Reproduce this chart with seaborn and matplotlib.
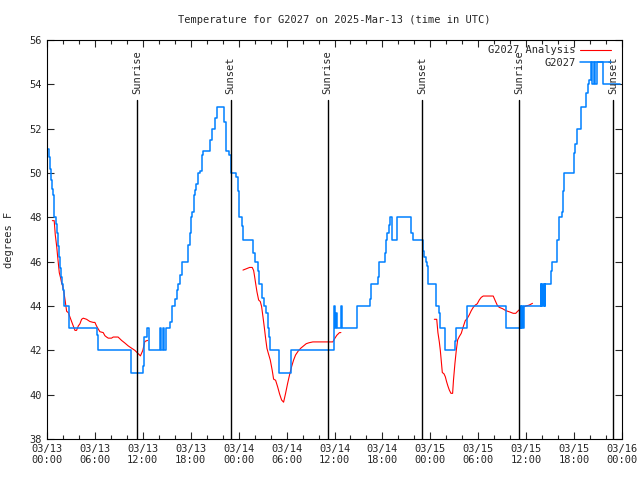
import numpy as np
import pandas as pd
import matplotlib
matplotlib.use("Agg")
import matplotlib.pyplot as plt
import seaborn as sns
from matplotlib.ticker import FixedLocator, MultipleLocator

# hours since 2025-03-13 00:00 UTC, observed temperature (step changes)
obs_hours = [0.0, 0.29, 0.42, 0.54, 0.67, 0.79, 0.92, 1.08, 1.21, 1.33, 1.46, 1.58, 1.71, 1.83, 1.96,
             2.08, 2.17, 2.79, 6.21, 6.42, 10.58, 12.04, 12.2, 12.46, 12.71, 14.21, 14.33, 14.58, 14.67,
             14.875, 15.46, 15.625, 16.04, 16.29, 16.46, 16.625, 16.875, 17.71, 17.875, 18.04, 18.21,
             18.375, 18.54, 18.71, 18.96, 19.125, 19.375, 19.54, 20.46, 20.625, 21.04, 21.29, 22.125,
             22.375, 22.79, 23.04, 23.7, 23.875, 24.04, 24.1, 24.46, 24.54, 25.79, 26.1, 26.46, 26.6,
             26.875, 26.96, 27.125, 27.375, 27.625, 27.79, 27.875, 29.04, 30.58, 35.96, 36.08, 36.17,
             36.29, 36.79, 36.92, 38.79, 40.46, 40.54, 41.46, 41.54, 42.375, 42.46, 42.625, 42.79, 43.0,
             43.25, 43.8, 45.6, 45.8, 47.1, 47.25, 47.4, 47.55, 47.7, 48.65, 49.04, 49.2, 49.79, 51.04,
             51.2, 52.55, 57.5, 59.3, 59.4, 59.5, 59.6, 59.75, 61.83, 61.9, 62.04, 62.1, 62.25, 62.3,
             62.4, 63.1, 63.29, 63.85, 64.1, 64.46, 64.625, 64.79, 66.0, 66.125, 66.375, 66.83, 67.46,
             67.71, 67.875, 68.1, 68.25, 68.45, 68.6, 68.9, 69.6, 71.8]
obs_temps = [51.1, 50.7, 50.2, 49.7, 49.3, 49.0, 48.0, 47.7, 47.3, 46.7, 46.2, 45.7, 45.3, 45.0, 44.7,
             44.3, 44.0, 43.0, 42.7, 42.0, 41.0, 41.3, 42.6, 43.0, 42.0, 43.0, 42.0, 43.0, 42.0,
             43.0, 43.3, 44.0, 44.3, 44.7, 45.0, 45.4, 46.0, 46.75, 47.3, 48.0, 48.25,
             49.0, 49.25, 49.5, 50.0, 50.1, 50.8, 51.0, 51.5, 52.0, 52.5, 53.0, 52.3,
             51.0, 50.8, 50.0, 49.8, 49.2, 48.8, 48.0, 47.6, 47.0, 46.4, 46.0, 45.6, 45.0,
             44.7, 44.35, 44.0, 43.7, 43.0, 42.6, 42.0, 41.0, 42.0, 44.0, 43.0, 43.7,
             43.0, 44.0, 43.0, 44.0, 44.3, 45.0, 45.3, 46.0, 46.4, 47.0, 47.3, 47.65, 48.0,
             47.0, 48.0, 47.3, 47.0, 46.5, 46.2, 46.0, 45.8, 45.0, 44.0, 43.67, 43.0, 42.0, 42.4,
             43.0, 44.0, 43.0, 44.0, 43.0, 44.0, 43.0, 44.0, 45.0, 44.0, 45.0, 44.0, 45.0, 44.0,
             45.0, 45.6, 46.0, 47.0, 48.0, 48.25, 49.2, 50.0, 50.9, 51.3, 52.0, 53.0, 53.6,
             54.0, 54.2, 55.0, 54.0, 55.0, 54.0, 55.0, 54.0, 54.0]

# analysis series, three separate runs
ana_hours_1 = [0.67, 0.9, 1.04, 1.21, 1.33, 1.54, 1.71, 1.83, 1.96, 2.125, 2.25, 2.46, 2.67, 2.875,
               3.08, 3.29, 3.5, 3.7, 3.92, 4.125, 4.33, 4.54, 4.96, 5.16, 5.375, 5.79, 6.0, 6.2, 6.42,
               6.625, 7.04, 7.25, 7.46, 7.67, 8.08, 8.29, 8.9, 9.33, 9.75, 10.17, 10.58, 11.0, 11.42,
               11.7, 12.0, 12.25, 12.6]
ana_temps_1 = [47.85, 47.85, 47.2, 46.7, 46.24, 45.5, 45.26, 45.04, 44.9, 44.6, 44.3, 43.76, 43.7, 43.5,
               43.3, 43.1, 42.9, 42.9, 43.1, 43.2, 43.4, 43.45, 43.4, 43.35, 43.3, 43.26, 43.26, 43.1, 42.96,
               42.84, 42.8, 42.66, 42.6, 42.55, 42.55, 42.6, 42.6, 42.45, 42.33, 42.2, 42.1, 42.0, 41.85,
               41.75, 42.0, 42.4, 42.45]
ana_hours_2 = [24.54, 24.96, 25.375, 25.7, 25.875, 26.0, 26.125, 26.29, 26.5, 26.71, 26.875, 27.04,
               27.2, 27.375, 27.54, 27.71, 27.96, 28.2, 28.375, 28.625, 28.875, 29.125, 29.375, 29.625,
               29.875, 30.125, 30.375, 30.625, 30.875, 31.125, 31.46, 31.79, 32.125, 32.46, 32.79, 33.29,
               34.125, 35.79, 36.04, 36.29, 36.625, 36.8]
ana_temps_2 = [45.62, 45.68, 45.74, 45.74, 45.6, 45.32, 45.02, 44.64, 44.27, 44.2, 43.97, 43.52,
               43.07, 42.54, 42.09, 41.87, 41.56, 41.1, 40.7, 40.65, 40.36, 40.03, 39.76, 39.66,
               40.06, 40.5, 40.9, 41.26, 41.56, 41.79, 41.97, 42.1, 42.2, 42.3, 42.34, 42.38,
               42.38, 42.38, 42.54, 42.68, 42.8, 42.8]
ana_hours_3 = [48.5, 48.8, 48.95, 49.125, 49.25, 49.375, 49.5, 49.71, 49.875, 50.04, 50.2, 50.375,
               50.58, 50.79, 50.9, 51.08, 51.25, 51.42, 51.625, 51.875, 52.125, 52.375, 52.625, 52.875,
               53.125, 53.375, 53.625, 53.875, 54.125, 54.375, 54.625, 55.375, 55.875, 56.125, 56.375,
               56.625, 57.04, 57.46, 57.875, 58.375, 58.7, 58.9, 59.2, 59.54, 59.96, 60.375, 60.79]
ana_temps_3 = [43.4, 43.4, 42.8, 42.38, 42.0, 41.5, 41.0, 40.94, 40.81, 40.58, 40.39, 40.21,
               40.06, 40.06, 40.66, 41.41, 42.0, 42.47, 42.62, 42.77, 43.07, 43.34, 43.44, 43.6,
               43.79, 43.94, 44.04, 44.1, 44.27, 44.39, 44.45, 44.45, 44.45, 44.24, 44.04,
               43.94, 43.88, 43.79, 43.74, 43.67, 43.67, 43.75, 43.85, 43.94, 44.0, 44.04, 44.12]

sunrise_hours = [11.25, 35.15, 59.1]
sunset_hours = [23.0, 46.95, 70.9]

tick_hours = list(range(0, 73, 6))
tick_labels = ["03/13\n00:00", "03/13\n06:00", "03/13\n12:00", "03/13\n18:00",
               "03/14\n00:00", "03/14\n06:00", "03/14\n12:00", "03/14\n18:00",
               "03/15\n00:00", "03/15\n06:00", "03/15\n12:00", "03/15\n18:00", "03/16\n00:00"]

obs = pd.DataFrame({"hour": obs_hours, "temp": obs_temps})
ana = pd.concat([
    pd.DataFrame({"hour": ana_hours_1, "temp": ana_temps_1, "run": 1}),
    pd.DataFrame({"hour": ana_hours_2, "temp": ana_temps_2, "run": 2}),
    pd.DataFrame({"hour": ana_hours_3, "temp": ana_temps_3, "run": 3}),
], ignore_index=True)

sns.set_style("ticks")
plt.rcParams["font.family"] = ["DejaVu Sans Mono"]
plt.rcParams["font.size"] = 7.5

fig = plt.figure(figsize=(6.4, 4.8), dpi=100)
ax = fig.add_axes([47 / 640, 41 / 480, 575 / 640, 399 / 480])

sns.lineplot(data=ana, x="hour", y="temp", units="run", estimator=None, color="#ff0000",
             linewidth=0.8, ax=ax, label="G2027 Analysis")
sns.lineplot(data=obs, x="hour", y="temp", color="#0080ff", linewidth=1.1,
             drawstyle="steps-post", ax=ax, label="G2027")

for h in sunrise_hours:
    ax.plot([h, h], [38, 53.3], color="black", linewidth=1.0)
    ax.text(h, 53.55, "Sunrise", rotation=90, ha="center", va="bottom", fontsize=7.5)
for h in sunset_hours:
    ax.plot([h, h], [38, 53.3], color="black", linewidth=1.0)
    ax.text(h, 53.55, "Sunset", rotation=90, ha="center", va="bottom", fontsize=7.5)

ax.set_xlim(0, 72)
ax.set_ylim(38, 56)
ax.xaxis.set_major_locator(FixedLocator(tick_hours))
ax.set_xticklabels(tick_labels)
ax.xaxis.set_minor_locator(MultipleLocator(2))
ax.set_yticks(range(38, 57, 2))
ax.tick_params(direction="in", top=True, right=True, which="both", labelsize=7.5, width=0.8)
ax.tick_params(which="major", length=5)
ax.tick_params(which="minor", length=3)
for s in ax.spines.values():
    s.set_linewidth(0.8)
    s.set_color("black")

ax.set_xlabel("")
ax.set_ylabel("degrees F", fontsize=7.5, labelpad=11)
ax.set_title("Temperature for G2027 on 2025-Mar-13 (time in UTC)", fontsize=7.5, pad=12)

# keep one legend entry per series
handles, labels = ax.get_legend_handles_labels()
seen = {}
for hd, lb in zip(handles, labels):
    if lb not in seen:
        seen[lb] = hd
leg = ax.legend(list(seen.values()), list(seen.keys()), loc="upper right",
                bbox_to_anchor=(0.99, 1.0), frameon=False, markerfirst=False, handlelength=3.0,
                fontsize=7.5, borderaxespad=0.1, labelspacing=0.25, handletextpad=0.4)

fig.savefig("out.png", dpi=100)
